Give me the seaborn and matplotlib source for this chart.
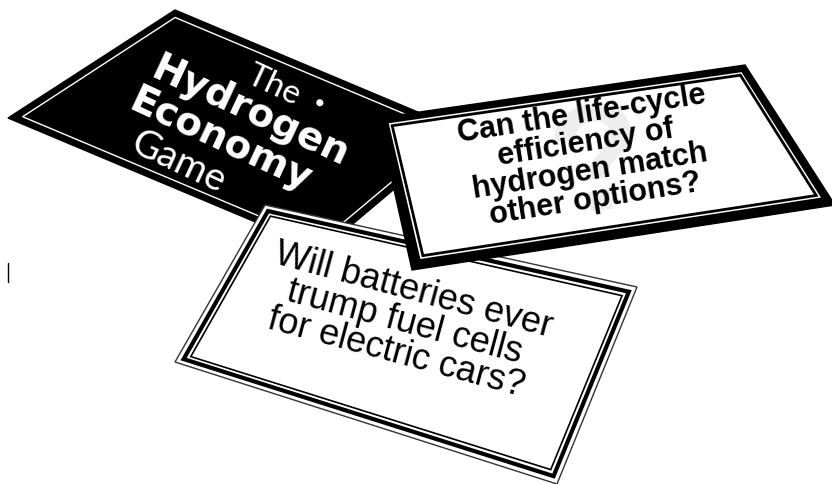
import numpy as np
import matplotlib
matplotlib.use("Agg")
import matplotlib.pyplot as plt
from matplotlib.patches import Polygon
import seaborn as sns

sns.set_style("white")
plt.rcParams['font.family'] = ['Liberation Sans', 'DejaVu Sans']

# card corners in picture pixels: card top-left, top-right, bottom-right, bottom-left
black_card = [(175, 10), (463, 131), (322, 250), (8, 118)]
right_card = [(378, 118), (745, 65), (835, 205), (412, 270)]
front_card = [(265, 205), (637, 287), (557, 484), (175, 362)]

# card texts
title_light = ['The', 'Game']
title_bold = ['Hydrogen', 'Economy']
right_text = ['Can the life-cycle', 'efficiency of', 'hydrogen match', 'other options?']
front_text = ['Will batteries ever', 'trump fuel cells', 'for electric cars?']


def inset(quad, d):
    # shrink a card outline by d pixels (top, right, bottom, left)
    if np.isscalar(d):
        d = (d, d, d, d)
    q = np.array(quad, dtype=float)
    w = (np.linalg.norm(q[1] - q[0]) + np.linalg.norm(q[2] - q[3])) / 2
    h = (np.linalg.norm(q[3] - q[0]) + np.linalg.norm(q[2] - q[1])) / 2
    s0, s1 = d[3] / w, 1 - d[1] / w
    t0, t1 = d[0] / h, 1 - d[2] / h

    def p(s, t):
        return (1 - t) * ((1 - s) * q[0] + s * q[1]) + t * ((1 - s) * q[3] + s * q[2])
    return [p(s0, t0), p(s1, t0), p(s1, t1), p(s0, t1)]


fig = plt.figure(figsize=(8.32, 4.84), dpi=100)
ax = fig.add_axes([0, 0, 1, 1])
ax.set_xlim(0, 832)
ax.set_ylim(484, 0)
ax.axis('off')

# --- black title card ---
ax.add_patch(Polygon(black_card, closed=True, fc='black', ec='black', lw=1, zorder=1))
ax.add_patch(Polygon(inset(black_card, 8), closed=True, fc='none', ec='white', lw=1, zorder=2))

ax.text(274, 86, title_light[0], rotation=-25, rotation_mode='anchor', ha='center', va='center',
        fontsize=24, color='white', family=['Lato', 'DejaVu Sans'], fontweight='normal', zorder=2)
ax.text(318, 104, '•', rotation=-25, rotation_mode='anchor', ha='center', va='center',
        fontsize=18, color='white', fontweight='bold', zorder=2)
ax.text(250, 112, title_bold[0], rotation=-25, rotation_mode='anchor', ha='center', va='center',
        fontsize=28, color='white', family=['DejaVu Sans'], fontweight='bold', zorder=2)
ax.text(220, 140, title_bold[1], rotation=-25, rotation_mode='anchor', ha='center', va='center',
        fontsize=28, color='white', family=['DejaVu Sans'], fontweight='bold', zorder=2)
ax.text(178, 162, title_light[1], rotation=-25, rotation_mode='anchor', ha='center', va='center',
        fontsize=28, color='white', family=['Lato', 'DejaVu Sans'], fontweight='normal', zorder=2)

# --- front card ---
ax.add_patch(Polygon(front_card, closed=True, fc='white', ec='#333333', lw=1, zorder=3))
ax.add_patch(Polygon(inset(front_card, 6), closed=True, fc='none', ec='black', lw=3, zorder=3))
ax.add_patch(Polygon(inset(front_card, 11), closed=True, fc='none', ec='black', lw=1.2, zorder=3))
ax.text(405, 322, '\n'.join(front_text), rotation=-15, rotation_mode='anchor', ha='center',
        va='center', multialignment='center', linespacing=0.9, fontsize=26, color='black', zorder=4)

# --- right card ---
ax.add_patch(Polygon(right_card, closed=True, fc='black', ec='black', lw=1, zorder=5))
ax.add_patch(Polygon(inset(right_card, (7, 8, 10, 10)), closed=True, fc='white', ec='none', zorder=5))
ax.add_patch(Polygon(inset(right_card, (10, 11, 13, 13)), closed=True, fc='white', ec='black',
                     lw=2, zorder=5))
ax.text(598, 170, '?', rotation=9, rotation_mode='anchor', ha='center', va='center',
        fontsize=110, color='#eeeeee', fontweight='bold', zorder=5)
ax.text(588, 157, '\n'.join(right_text), rotation=9, rotation_mode='anchor', ha='center',
        va='center', multialignment='center', linespacing=0.95, fontsize=22, fontweight='bold',
        color='black', zorder=6)

# stray scan mark on the left
ax.plot([8, 8], [263, 282], color='black', lw=1, zorder=1)

fig.savefig('out.png', dpi=100)
